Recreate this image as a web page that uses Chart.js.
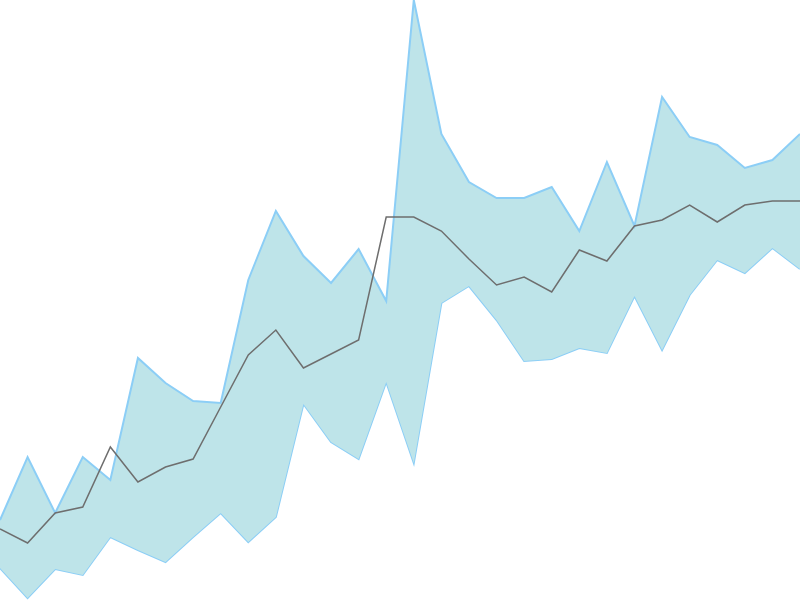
<!DOCTYPE html>
<html>
<head>
<meta charset="utf-8">
<script src="https://cdn.jsdelivr.net/npm/chart.js@4"></script>
<style>
html,body{margin:0;padding:0;background:#fff;}
#wrap{width:800px;height:600px;}
</style>
</head>
<body>
<div id="wrap"><canvas id="c"></canvas></div>
<script>
const labels = Array.from({length:30}, (_, i) => String(i));
const upper = [80,143,87,143,120,242,217,199,197,320,389,344,317,351,299,600,466,418,402,402,413,369,438,374,503,463,455,432,440,466];
const lower = [32,2,31,25,63,50,38,63,87,58,83,196,158,141,218,137,297,314,280,239,241,252,247,304,250,305,340,327,352,331];
const middle = [71,57,87,93,153,118,133,141,193,245,270,232,246,260,383,383,369,341,315,323,308,350,339,374,380,395,378,395,399,399];

new Chart(document.getElementById('c'), {
  type: 'line',
  data: {
    labels: labels,
    datasets: [
      {
        data: upper,
        borderColor: 'rgb(140,206,246)',
        backgroundColor: 'rgb(190,228,233)',
        borderWidth: 2,
        pointRadius: 0,
        fill: '+1',
        tension: 0,
        order: 2
      },
      {
        data: lower,
        borderColor: 'rgb(140,206,246)',
        backgroundColor: 'rgb(190,228,233)',
        borderWidth: 2,
        pointRadius: 0,
        fill: false,
        tension: 0,
        order: 2
      },
      {
        data: middle,
        borderColor: 'rgb(110,110,110)',
        borderWidth: 1.5,
        pointRadius: 0,
        fill: false,
        tension: 0,
        order: 1
      }
    ]
  },
  options: {
    responsive: true,
    maintainAspectRatio: false,
    animation: false,
    layout: { padding: 0 },
    plugins: { legend: { display: false }, tooltip: { enabled: false } },
    scales: {
      x: { display: false, offset: false },
      y: { display: false, min: 0, max: 600 }
    }
  }
});
</script>
</body>
</html>
